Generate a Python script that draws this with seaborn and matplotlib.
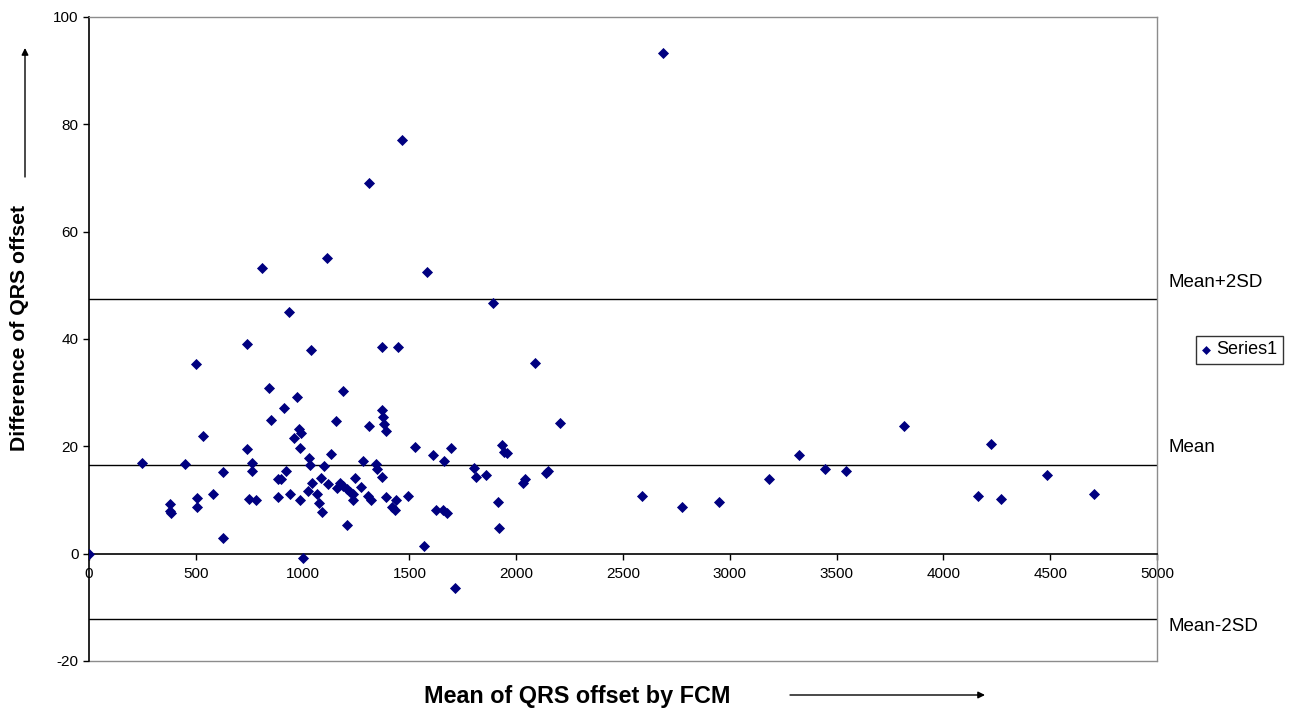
import matplotlib
matplotlib.use("Agg")
import matplotlib.pyplot as plt
from matplotlib.lines import Line2D
from matplotlib.patches import FancyArrowPatch
from matplotlib.transforms import blended_transform_factory
import seaborn as sns
import pandas as pd

# Mean of QRS offset (x) and difference of QRS offset (y) for each record
qrs_mean = [
    0, 250, 380, 380, 383, 451, 500, 505, 505, 534,
    581, 625, 625, 740, 740, 751, 762, 762, 783, 809,
    845, 851, 887, 900, 887, 912, 922, 934, 942, 961,
    976, 982, 992, 989, 989, 1001, 1029, 1026, 1036, 1037,
    1045, 1067, 1079, 1086, 1092, 1098, 1113, 1121, 1134, 1155,
    1161, 1176, 1189, 1189, 1208, 1210, 1223, 1235, 1235, 1246,
    1273, 1285, 1304, 1312, 1313, 1320, 1345, 1349, 1370, 1370,
    1374, 1375, 1382, 1389, 1389, 1420, 1432, 1439, 1445, 1467,
    1492, 1526, 1570, 1582, 1609, 1625, 1657, 1664, 1674, 1693,
    1715, 1804, 1813, 1860, 1893, 1913, 1920, 1934, 1942, 1957,
    2030, 2040, 2087, 2140, 2149, 2204, 2591, 2685, 2776, 2951,
    3184, 3324, 3448, 3545, 3814, 4161, 4222, 4270, 4484, 4705,
]
qrs_diff = [
    0.0, 16.9, 9.3, 8.0, 7.6, 16.7, 35.3, 10.4, 8.7, 21.9,
    11.2, 15.2, 3.0, 39.0, 19.5, 10.2, 16.9, 15.4, 10.0, 53.2,
    30.9, 24.9, 13.9, 13.9, 10.6, 27.1, 15.4, 45.0, 11.2, 21.6,
    29.1, 23.2, 22.5, 19.6, 10.0, -0.8, 17.9, 11.7, 16.5, 38.0,
    13.2, 11.2, 9.5, 14.1, 7.8, 16.4, 55.1, 13.0, 18.6, 24.7,
    12.2, 13.1, 12.7, 30.3, 12.1, 5.3, 11.5, 11.2, 10.0, 14.1,
    12.5, 17.3, 10.7, 23.8, 69.1, 10.0, 16.7, 15.8, 26.8, 14.3,
    38.5, 25.4, 24.2, 22.9, 10.5, 8.7, 8.2, 10.0, 38.5, 77.0,
    10.7, 19.9, 1.5, 52.5, 18.4, 8.2, 8.2, 17.2, 7.6, 19.6,
    -6.4, 15.9, 14.3, 14.7, 46.7, 9.7, 4.8, 20.3, 19.0, 18.8,
    13.1, 13.9, 35.6, 15.1, 15.4, 24.3, 10.7, 93.2, 8.7, 9.7,
    13.9, 18.4, 15.7, 15.4, 23.8, 10.7, 20.4, 10.2, 14.7, 11.2,
]

# Reference lines (mean difference and limits of agreement)
ref_names = ["Mean+2SD", "Mean", "Mean-2SD"]
ref_values = [47.5, 16.6, -12.1]
ref_label_y = [50.5, 19.7, -13.6]

x_ticks = [0, 500, 1000, 1500, 2000, 2500, 3000, 3500, 4000, 4500, 5000]
y_ticks = [-20, 0, 20, 40, 60, 80, 100]

df = pd.DataFrame({"mean": qrs_mean, "diff": qrs_diff})

sns.set_style("white")
plt.rcParams["font.family"] = ["Liberation Sans", "DejaVu Sans"]
plt.rcParams["axes.unicode_minus"] = False
plt.rcParams["text.color"] = "black"

W, H = 1303, 712
fig = plt.figure(figsize=(W / 100, H / 100), dpi=100)
ax = fig.add_axes([89 / W, 1 - 661 / H, (1157 - 89) / W, (661 - 17) / H])

sns.scatterplot(data=df, x="mean", y="diff", marker="D", color="#000080",
                s=32, linewidth=0, label="Series1", ax=ax, zorder=3)

for v in ref_values:
    ax.axhline(v, color="black", lw=1.0, zorder=2)

ax.set_xlim(0, 5000)
ax.set_ylim(-20, 100)
ax.set_xticks(x_ticks)
ax.set_yticks(y_ticks)
ax.set_xlabel("")
ax.set_ylabel("")

# Axis lines: y axis on the left, x axis crossing at zero, grey plot-area border
ax.spines["left"].set_color("black")
ax.spines["left"].set_linewidth(1.2)
ax.spines["bottom"].set_position(("data", 0))
ax.spines["bottom"].set_color("black")
ax.spines["bottom"].set_linewidth(1.2)
ax.spines["top"].set_color("#8c8c8c")
ax.spines["right"].set_color("#8c8c8c")
ax.spines["top"].set_linewidth(1.0)
ax.spines["right"].set_linewidth(1.0)
ax.add_line(Line2D([0, 1], [0, 0], transform=ax.transAxes, color="#8c8c8c",
                   lw=1.0, clip_on=False))

ax.tick_params(axis="both", which="major", direction="out", length=4.5,
               width=1, color="black", labelsize=11, labelcolor="black",
               bottom=True, left=True)
ax.tick_params(axis="x", pad=5)
ax.tick_params(axis="y", pad=3)

# Labels for the reference lines, outside the plot area
label_tf = blended_transform_factory(fig.transFigure, ax.transData)
for name, ly in zip(ref_names, ref_label_y):
    ax.text(1169 / W, ly, name, transform=label_tf, ha="left", va="center",
            fontsize=13.5, color="black", clip_on=False)

leg = ax.legend(loc="center", bbox_to_anchor=(1239.5 / W, 1 - 350 / H),
                bbox_transform=fig.transFigure, frameon=True, fancybox=False,
                fontsize=13, handlelength=0.5, handletextpad=0.35,
                borderpad=0.3, markerscale=0.8)
leg.get_frame().set_edgecolor("black")
leg.get_frame().set_linewidth(1.0)
for t in leg.get_texts():
    t.set_color("black")

# Axis titles with direction arrows
fig.text(20 / W, 1 - 328 / H, "Difference of QRS offset", rotation=90,
         ha="center", va="center", fontsize=15.3, fontweight="bold",
         color="black")
fig.text(577 / W, 1 - 697 / H, "Mean of QRS offset by FCM",
         ha="center", va="center", fontsize=16.8, fontweight="bold",
         color="black")
arrow_kw = dict(arrowstyle="-|>", color="black", lw=1.0, mutation_scale=10,
                shrinkA=0, shrinkB=0)
fig.add_artist(FancyArrowPatch((25 / W, 1 - 177 / H), (25 / W, 1 - 48 / H),
                               transform=fig.transFigure, **arrow_kw))
fig.add_artist(FancyArrowPatch((790 / W, 1 - 695 / H), (985 / W, 1 - 695 / H),
                               transform=fig.transFigure, **arrow_kw))

fig.savefig("out.png", dpi=100)
